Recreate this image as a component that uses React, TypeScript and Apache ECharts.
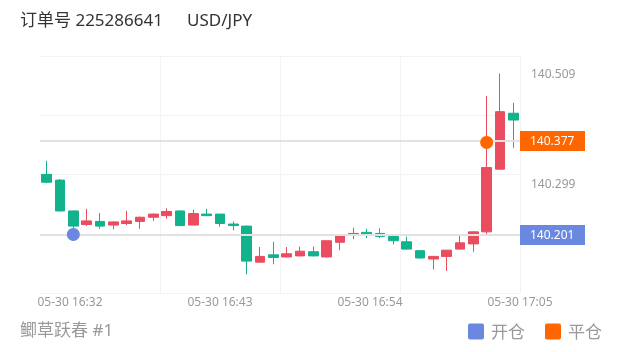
import React, { useEffect, useRef } from "react";
import * as echarts from "echarts";

const orderTitle = "订单号 225286641";
const symbolTitle = "USD/JPY";
const footerText = "鲫草跃春 #1";

const times = [
  "16:30", "16:31", "16:32", "16:33", "16:34", "16:35", "16:36", "16:37", "16:38",
  "16:39", "16:40", "16:41", "16:42", "16:43", "16:44", "16:45", "16:46", "16:47",
  "16:48", "16:49", "16:50", "16:51", "16:52", "16:53", "16:54", "16:55", "16:56",
  "16:57", "16:58", "16:59", "17:00", "17:01", "17:02", "17:03", "17:04", "17:05",
];

const opens = [
  140.316, 140.305, 140.246, 140.220, 140.226, 140.219, 140.222, 140.226, 140.234,
  140.237, 140.246, 140.219, 140.240, 140.240, 140.221, 140.217, 140.148, 140.162,
  140.158, 140.160, 140.168, 140.158, 140.186, 140.199, 140.205, 140.203, 140.197,
  140.187, 140.170, 140.154, 140.159, 140.173, 140.183, 140.206, 140.326, 140.433,
];
const closes = [
  140.301, 140.246, 140.217, 140.227, 140.217, 140.225, 140.227, 140.234, 140.240,
  140.245, 140.218, 140.241, 140.237, 140.222, 140.218, 140.150, 140.159, 140.157,
  140.164, 140.169, 140.160, 140.189, 140.199, 140.203, 140.199, 140.197, 140.189,
  140.173, 140.156, 140.159, 140.171, 140.185, 140.206, 140.329, 140.436, 140.420,
];
const lows = [
  140.299, 140.245, 140.201, 140.217, 140.212, 140.211, 140.219, 140.212, 140.227,
  140.231, 140.217, 140.219, 140.236, 140.216, 140.209, 140.125, 140.147, 140.144,
  140.157, 140.159, 140.159, 140.157, 140.171, 140.192, 140.194, 140.194, 140.182,
  140.172, 140.155, 140.134, 140.131, 140.172, 140.168, 140.201, 140.325, 140.367,
];
const highs = [
  140.342, 140.307, 140.247, 140.250, 140.242, 140.226, 140.246, 140.235, 140.241,
  140.251, 140.247, 140.248, 140.250, 140.240, 140.226, 140.218, 140.177, 140.187,
  140.177, 140.178, 140.178, 140.189, 140.199, 140.214, 140.212, 140.213, 140.201,
  140.197, 140.170, 140.159, 140.171, 140.200, 140.207, 140.466, 140.509, 140.453,
];

const openTradeIndex = 2;
const openTradePrice = 140.201;
const closeTradeIndex = 33;
const closeTradePrice = 140.377;

const yTickValues = [140.299, 140.509];
const yMin = 140.089;
const yMax = 140.5425;

const xTickMinutes = [32, 43, 54, 65];
const xTickLabels = ["05-30 16:32", "05-30 16:43", "05-30 16:54", "05-30 17:05"];
const xMinuteMin = 29.8;
const xMinuteMax = 65;

const UP = "#ea4c60";
const DOWN = "#12b28c";
const BLUE = "#6b88e0";
const ORANGE = "#ff6600";
const FONT = "'Noto Sans', 'Noto Sans CJK SC', sans-serif";
const SQUARE_ICON =
  "path://M2,0H14A2,2,0,0,1,16,2V14A2,2,0,0,1,14,16H2A2,2,0,0,1,0,14V2A2,2,0,0,1,2,0Z";

export default function App() {
  const ref = useRef<HTMLDivElement>(null);
  useEffect(() => {
    if (!ref.current) return;
    const chart = echarts.init(ref.current, null, { renderer: "svg" });
    const candles = opens.map((o, i) => [o, closes[i], lows[i], highs[i]]);
    const option: any = {
      animation: false,
      textStyle: { fontFamily: FONT },
      grid: { left: 40, right: 100, top: 56, bottom: 59 },
      legend: {
        data: [
          { name: "开仓", icon: SQUARE_ICON },
          { name: "平仓", icon: SQUARE_ICON },
        ],
        right: 18,
        top: 323,
        padding: 0,
        icon: SQUARE_ICON,
        itemWidth: 16,
        itemHeight: 16,
        itemGap: 20,
        textStyle: { fontSize: 17, color: "#999", fontFamily: FONT, padding: [0, 0, 0, 2] },
      },
      xAxis: [
        {
          type: "category",
          data: times,
          boundaryGap: true,
          position: "bottom",
          show: false,
        },
        {
          type: "value",
          min: 0,
          max: 4,
          interval: 1,
          position: "top",
          axisLine: { show: false },
          axisTick: { show: false },
          axisLabel: { show: false },
          splitLine: { show: true, showMinLine: false, lineStyle: { color: "#f3f3f3", width: 1 } },
        },
        {
          type: "value",
          min: xMinuteMin,
          max: xMinuteMax,
          position: "bottom",
          axisLine: { show: false },
          axisTick: { show: false },
          splitLine: { show: false },
          axisLabel: {
            customValues: xTickMinutes,
            color: "#999",
            fontSize: 12,
            margin: 2,
            formatter: (v: number) => {
              const k = xTickMinutes.findIndex((m) => Math.abs(m - v) < 1e-6);
              return k >= 0 ? xTickLabels[k] : "";
            },
          },
        },
      ],
      yAxis: [
        {
          type: "value",
          position: "right",
          min: yMin,
          max: yMax,
          axisLine: { show: false },
          axisTick: { show: false },
          splitLine: { show: false },
          axisLabel: {
            customValues: yTickValues,
            color: "#999",
            fontSize: 12,
            margin: 11,
            formatter: (v: number) => v.toFixed(3),
          },
        },
        {
          type: "value",
          position: "left",
          min: 0,
          max: 4,
          interval: 1,
          axisLine: { show: false },
          axisTick: { show: false },
          axisLabel: { show: false },
          splitLine: { show: true, lineStyle: { color: "#f3f3f3", width: 1 } },
        },
      ],
      series: [
        {
          type: "candlestick",
          xAxisIndex: 0,
          yAxisIndex: 0,
          data: candles,
          barWidth: 10,
          itemStyle: {
            color: UP,
            color0: DOWN,
            borderColor: UP,
            borderColor0: DOWN,
            borderWidth: 1,
          },
          markLine: {
            silent: true,
            symbol: ["none", "none"],
            lineStyle: { color: "#e2e2e2", width: 2, type: "solid" },
            label: {
              position: "end",
              distance: 0,
              color: "#fff",
              fontSize: 12,
              padding: [4, 10, 4, 10],
              width: 45,
              align: "left",
            },
            data: [
              {
                yAxis: closeTradePrice,
                label: { backgroundColor: ORANGE, formatter: closeTradePrice.toFixed(3) },
              },
              {
                yAxis: openTradePrice,
                label: { backgroundColor: BLUE, formatter: openTradePrice.toFixed(3) },
              },
            ],
          },
        },
        {
          type: "scatter",
          name: "开仓",
          xAxisIndex: 0,
          yAxisIndex: 0,
          symbolSize: 13,
          z: 5,
          itemStyle: { color: BLUE, opacity: 1 },
          data: [[openTradeIndex, openTradePrice]],
        },
        {
          type: "scatter",
          name: "平仓",
          xAxisIndex: 0,
          yAxisIndex: 0,
          symbolSize: 13,
          z: 5,
          itemStyle: { color: ORANGE, opacity: 1 },
          data: [[closeTradeIndex, closeTradePrice]],
        },
      ],
      graphic: [
        {
          type: "text",
          left: 20,
          top: 11,
          style: { text: orderTitle, fontSize: 17, fill: "#333", fontFamily: FONT },
        },
        {
          type: "text",
          left: 187,
          top: 11,
          style: { text: symbolTitle, fontSize: 17, fill: "#333", fontFamily: FONT },
        },
        {
          type: "text",
          left: 20,
          top: 321,
          style: { text: footerText, fontSize: 17, fill: "#999", fontFamily: FONT },
        },
      ],
    };
    chart.setOption(option);
    return () => chart.dispose();
  }, []);
  return (
    <div
      ref={ref}
      style={{ position: "fixed", left: 0, top: 0, width: 620, height: 352 }}
    />
  );
}
